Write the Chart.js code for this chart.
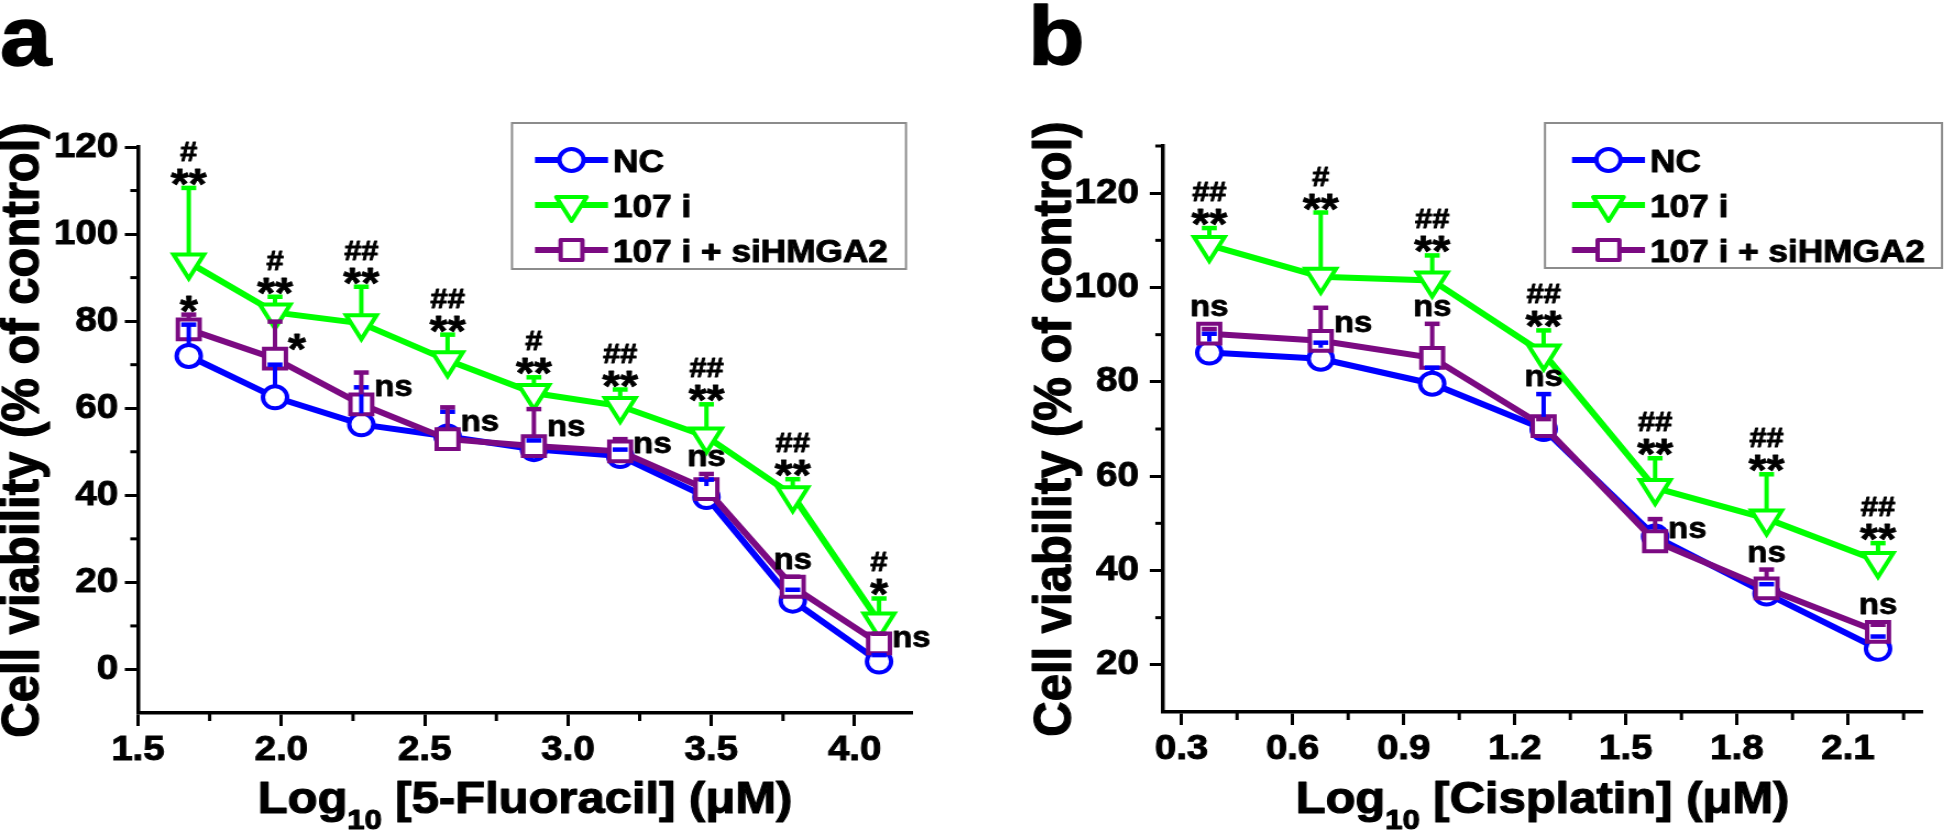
<!DOCTYPE html>
<html>
<head>
<meta charset="utf-8">
<title>Cell viability</title>
<script src="https://cdn.jsdelivr.net/npm/chart.js@4.4.1/dist/chart.umd.min.js"></script>
<style>
  html, body { margin: 0; padding: 0; background: #fff; }
  body { width: 1944px; height: 837px; overflow: hidden; position: relative; }
  .panel { position: absolute; top: 0; transform-origin: 0 0; }
  canvas { display: block; }
</style>
</head>
<body>
<div class="panel" id="panelA"><canvas id="chartA"></canvas></div>
<div class="panel" id="panelB"><canvas id="chartB"></canvas></div>
<script>
const FONT = '"Liberation Sans", Arial, Helvetica, sans-serif';
const S = 1.1;   // the source figure is drawn a bit wide, so canvases get stretched sideways
const H = 837;

// panel a - 5-Fluoracil
const fluLogDose = [1.677, 1.978, 2.279, 2.580, 2.881, 3.182, 3.483, 3.784, 4.085];
const fluNC = [72, 62.5, 56.3, 53.5, 50.6, 49, 39.6, 15.8, 1.8];
const fluNCErr = [7.2, 7.5, 8.5, 5.7, 2, 1.5, 4, 2.5, 1.5];
const fluI = [93.5, 82, 79.5, 71, 63.5, 60.5, 53.5, 40, 11];
const fluIErr = [17.1, 3.6, 8.4, 5.9, 3.6, 3.8, 7.4, 3.7, 5.3];
const fluSi = [78.1, 71.4, 60.9, 52.9, 51.3, 50.1, 41.4, 19, 6];
const fluSiErr = [3.4, 8.5, 7.3, 7.3, 8.5, 2.8, 3.5, 2.3, 2.2];
const fluHash = ['#', '#', '##', '##', '#', '##', '##', '##', '#'];
const fluStar = ['**', '**', '**', '**', '**', '**', '**', '**', '*'];
const fluSiSig = ['*', '*', 'ns', 'ns', 'ns', 'ns', 'ns', 'ns', 'ns'];
const fluSiSide = ['above', 'right', 'right', 'right', 'right', 'right', 'above', 'above', 'right'];
const fluXTicks = [1.5, 2.0, 2.5, 3.0, 3.5, 4.0];
const fluXMinor = [1.75, 2.25, 2.75, 3.25, 3.75];
const fluYTicks = [0, 20, 40, 60, 80, 100, 120];
const fluYMinor = [10, 30, 50, 70, 90, 110];

// panel b - Cisplatin
const cisLogDose = [0.375, 0.676, 0.977, 1.278, 1.579, 1.880, 2.181];
const cisNC = [86.2, 84.9, 79.6, 70, 47.2, 35.1, 23.4];
const cisNCErr = [4, 3.4, 3.4, 7.4, 2, 2, 2.6];
const cisI = [109, 102.3, 101.5, 86, 57.5, 51, 42];
const cisIErr = [3.6, 13.6, 5.3, 4.9, 6.3, 9.4, 3.8];
const cisSi = [90.2, 88.7, 85.1, 70.6, 46.2, 36.2, 27];
const cisSiErr = [1, 7, 7.2, 1.5, 4.7, 4, 1.5];
const cisHash = ['##', '#', '##', '##', '##', '##', '##'];
const cisStar = ['**', '**', '**', '**', '**', '**', '**'];
const cisSiSig = ['ns', 'ns', 'ns', 'ns', 'ns', 'ns', 'ns'];
const cisSiSide = ['above', 'right', 'above', 'above', 'right', 'above', 'above'];
const cisXTicks = [0.3, 0.6, 0.9, 1.2, 1.5, 1.8, 2.1];
const cisXMinor = [0.45, 0.75, 1.05, 1.35, 1.65, 1.95, 2.25];
const cisYTicks = [20, 40, 60, 80, 100, 120];
const cisYMinor = [30, 50, 70, 90, 110, 130];

const seriesNames = ['NC', '107 i', '107 i + siHMGA2'];
const seriesColors = ['#0000ff', '#00ff00', '#7b0a82'];
const yTitleText = 'Cell viability (% of control)';

Chart.defaults.font.family = FONT;
Chart.defaults.font.weight = 'bold';
Chart.defaults.color = '#000';

function series(k, xs, ys, errs) {
  const styles = ['circle', 'triangle', 'rect'];
  const radius = [11, 16, 14];
  const edge = [11, 8, 9.9];
  return {
    label: seriesNames[k],
    data: xs.map((x, i) => ({ x: x, y: ys[i] })),
    errors: errs,
    markerEdge: edge[k],
    borderColor: seriesColors[k],
    backgroundColor: '#fff',
    borderWidth: 6,
    pointStyle: styles[k],
    pointRotation: k === 1 ? 180 : 0,
    pointRadius: radius[k],
    pointBorderWidth: 4,
    pointBorderColor: seriesColors[k],
    pointBackgroundColor: '#fff',
    order: [1, 2, 0][k],
    tension: 0,
    clip: false
  };
}

// bold text with a hairline stroke, the source glyphs are heavy
function heavyText(ctx, str, x, y, w) {
  ctx.lineWidth = w || 1.2;
  ctx.strokeStyle = ctx.fillStyle;
  ctx.lineJoin = 'round';
  ctx.strokeText(str, x, y);
  ctx.fillText(str, x, y);
}

function marker(ctx, ds, x, y) {
  if (Chart.helpers && Chart.helpers.drawPoint) {
    Chart.helpers.drawPoint(ctx, { pointStyle: ds.pointStyle, rotation: ds.pointRotation, radius: ds.pointRadius, borderWidth: ds.pointBorderWidth }, x, y);
    return;
  }
  const r = ds.pointRadius;
  ctx.beginPath();
  if (ds.pointStyle === 'circle') ctx.arc(x, y, r, 0, Math.PI * 2);
  else if (ds.pointStyle === 'rect') ctx.rect(x - r * Math.SQRT1_2, y - r * Math.SQRT1_2, 2 * r * Math.SQRT1_2, 2 * r * Math.SQRT1_2);
  else { ctx.moveTo(x, y + r); ctx.lineTo(x - r * 0.866, y - r / 2); ctx.lineTo(x + r * 0.866, y - r / 2); ctx.closePath(); }
  ctx.fill(); ctx.stroke();
}

function drawPanel(cfg) {
  const wrap = document.getElementById(cfg.wrapId);
  const canvas = document.getElementById(cfg.canvasId);
  const W = Math.ceil(cfg.width / S);
  canvas.width = W;
  canvas.height = H;
  wrap.style.left = cfg.left + 'px';
  wrap.style.transform = 'scaleX(' + S + ')';
  const toX = fx => (fx - cfg.left) / S;

  const yWidth = toX(cfg.area.left);
  const padRight = W - toX(cfg.area.right);

  const errorBars = {
    id: 'errorBars',
    afterDatasetsDraw(chart) {
      const { ctx, scales: { x, y } } = chart;
      const sets = chart.data.datasets.slice().sort((a, b) => b.order - a.order);
      ctx.save();
      sets.forEach(ds => {
        ctx.strokeStyle = ds.borderColor;
        ds.data.forEach((p, i) => {
          const px = x.getPixelForValue(p.x);
          const py = y.getPixelForValue(p.y);
          const top = y.getPixelForValue(p.y + ds.errors[i]);
          ctx.lineWidth = 4;
          if (top < py - ds.markerEdge) {
            ctx.beginPath(); ctx.moveTo(px, py - ds.markerEdge); ctx.lineTo(px, top); ctx.stroke();
          }
          ctx.lineWidth = 4.5;
          ctx.beginPath(); ctx.moveTo(px - 6.8, top); ctx.lineTo(px + 6.8, top); ctx.stroke();
        });
      });
      ctx.restore();
    }
  };

  const minorTicks = {
    id: 'minorTicks',
    afterDraw(chart) {
      const { ctx, scales: { x, y } } = chart;
      ctx.save();
      ctx.strokeStyle = '#000';
      ctx.lineWidth = 3;
      cfg.xMinor.forEach(v => {
        const p = x.getPixelForValue(v);
        ctx.beginPath(); ctx.moveTo(p, x.top); ctx.lineTo(p, x.top + 8); ctx.stroke();
      });
      cfg.yMinor.forEach(v => {
        const p = y.getPixelForValue(v);
        ctx.beginPath(); ctx.moveTo(y.right, p); ctx.lineTo(y.right - 7, p); ctx.stroke();
      });
      ctx.restore();
    }
  };

  const sigLabels = {
    id: 'sigLabels',
    afterDraw(chart) {
      const { ctx, scales: { x, y } } = chart;
      const [nc, inh, si] = chart.data.datasets;
      const starFont = 'bold 42px ' + FONT, hashFont = 'bold 28px ' + FONT, nsFont = 'bold 30px ' + FONT;
      ctx.save();
      ctx.fillStyle = '#000';
      ctx.textBaseline = 'alphabetic';
      inh.data.forEach((p, i) => {
        const px = x.getPixelForValue(p.x);
        const capG = y.getPixelForValue(p.y + inh.errors[i]);
        ctx.textAlign = 'center';
        ctx.font = starFont;
        heavyText(ctx, cfg.star[i], px, capG + 10, 0.8);
        ctx.font = hashFont;
        heavyText(ctx, cfg.hash[i], px, capG - 27, 1);

        const pyS = y.getPixelForValue(si.data[i].y);
        const capS = y.getPixelForValue(si.data[i].y + si.errors[i]);
        const capN = y.getPixelForValue(nc.data[i].y + nc.errors[i]);
        const txt = cfg.siSig[i];
        const isStar = txt.charAt(0) === '*';
        ctx.font = isStar ? starFont : nsFont;
        if (cfg.siSide[i] === 'above') {
          const top = Math.min(capS, capN, pyS - si.markerEdge);
          ctx.textAlign = 'center';
          heavyText(ctx, txt, px, isStar ? top + 10 : top - 8, 0.8);
        } else {
          const mid = (pyS + capS) / 2;
          ctx.textAlign = 'left';
          heavyText(ctx, txt, px + 13 / S, isStar ? mid + 23 : mid + 8, 0.8);
        }
      });
      ctx.restore();
    }
  };

  const boxLegend = {
    id: 'boxLegend',
    afterDraw(chart) {
      const { ctx } = chart;
      const L = cfg.legend;
      ctx.save();
      ctx.strokeStyle = '#8c8c8c';
      ctx.lineWidth = 2;
      ctx.strokeRect(toX(L.left), L.top, toX(L.right) - toX(L.left), L.bottom - L.top);
      chart.data.datasets.forEach((ds, k) => {
        const yy = L.rows[k];
        const x0 = toX(L.lineFrom), x1 = toX(L.lineTo);
        ctx.strokeStyle = ds.borderColor;
        ctx.lineWidth = ds.borderWidth;
        ctx.beginPath(); ctx.moveTo(x0, yy); ctx.lineTo(x1, yy); ctx.stroke();
        ctx.fillStyle = '#fff';
        ctx.strokeStyle = ds.borderColor;
        ctx.lineWidth = ds.pointBorderWidth;
        marker(ctx, ds, (x0 + x1) / 2, yy);
        ctx.fillStyle = '#000';
        ctx.font = 'bold 32px ' + FONT;
        ctx.textAlign = 'left';
        ctx.textBaseline = 'alphabetic';
        heavyText(ctx, ds.label, toX(L.textX), yy + 11.5, 1);
      });
      ctx.restore();
    }
  };

  const titles = {
    id: 'titles',
    afterDraw(chart) {
      const { ctx, chartArea: a } = chart;
      ctx.save();
      ctx.fillStyle = '#000';

      // x title with the subscript 10
      const main = 'bold 44.5px ' + FONT, sub = 'bold 28px ' + FONT;
      const parts = [['Log', main, 0], ['10', sub, 16], [cfg.xTitleRest, main, 0]];
      ctx.textAlign = 'left';
      ctx.textBaseline = 'alphabetic';
      let total = 0;
      const widths = parts.map(p => { ctx.font = p[1]; const w = ctx.measureText(p[0]).width; total += w; return w; });
      let xx = (a.left + a.right) / 2 - total / 2;
      parts.forEach((p, i) => { ctx.font = p[1]; heavyText(ctx, p[0], xx, cfg.xTitleY + p[2], 1.2); xx += widths[i]; });

      // y title, drawn by hand so it is not squeezed to the axis height
      ctx.save();
      ctx.translate(toX(cfg.yTitleX), (a.top + a.bottom) / 2);
      ctx.rotate(-Math.PI / 2);
      ctx.font = 'bold 49px ' + FONT;
      ctx.textAlign = 'center';
      ctx.textBaseline = 'middle';
      heavyText(ctx, yTitleText, 0, 0, 1.2);
      ctx.restore();

      ctx.textAlign = 'left';
      ctx.textBaseline = 'alphabetic';
      ctx.font = 'bold 84px ' + FONT;
      heavyText(ctx, cfg.letter, toX(cfg.letterX), 65, 1.5);
      ctx.restore();
    }
  };

  return new Chart(canvas, {
    type: 'line',
    data: {
      datasets: [
        series(0, cfg.xs, cfg.nc, cfg.ncErr),
        series(1, cfg.xs, cfg.inh, cfg.inhErr),
        series(2, cfg.xs, cfg.si, cfg.siErr)
      ]
    },
    options: {
      responsive: false,
      animation: false,
      devicePixelRatio: 1,
      events: [],
      layout: { padding: { left: 0, right: padRight, top: cfg.area.top, bottom: 0 } },
      plugins: { legend: { display: false }, tooltip: { enabled: false } },
      scales: {
        x: {
          type: 'linear', position: 'bottom', min: cfg.xMin, max: cfg.xMax,
          afterBuildTicks: s => { s.ticks = cfg.xTicks.map(v => ({ value: v })); },
          afterFit: s => { s.height = H - cfg.area.bottom; },
          ticks: { autoSkip: false, maxRotation: 0, padding: 3, color: '#000', textStrokeColor: '#000', textStrokeWidth: 1,
                   font: { size: 35, weight: 'bold' }, callback: v => Number(v).toFixed(1) },
          grid: { drawOnChartArea: false, drawTicks: true, tickLength: 13, tickWidth: 3, tickColor: '#000' },
          border: { display: true, color: '#000', width: 3.5 }
        },
        y: {
          type: 'linear', position: 'left', min: cfg.yMin, max: cfg.yMax,
          afterBuildTicks: s => { s.ticks = cfg.yTicks.map(v => ({ value: v })); },
          afterFit: s => { s.width = yWidth; },
          ticks: { padding: cfg.yTickPad, color: '#000', textStrokeColor: '#000', textStrokeWidth: 1,
                   font: { size: 35, weight: 'bold' }, callback: v => String(v) },
          grid: { drawOnChartArea: false, drawTicks: true, tickLength: 12, tickWidth: 3, tickColor: '#000' },
          border: { display: true, color: '#000', width: 3.5 }
        }
      }
    },
    plugins: [errorBars, minorTicks, sigLabels, boxLegend, titles]
  });
}

drawPanel({
  wrapId: 'panelA', canvasId: 'chartA', left: 0, width: 975,
  area: { left: 138, right: 912, top: 147, bottom: 713 },
  xMin: 1.5, xMax: 4.2, yMin: -10, yMax: 120, yTickPad: 6,
  xTicks: fluXTicks, xMinor: fluXMinor, yTicks: fluYTicks, yMinor: fluYMinor,
  xs: fluLogDose, nc: fluNC, ncErr: fluNCErr, inh: fluI, inhErr: fluIErr, si: fluSi, siErr: fluSiErr,
  hash: fluHash, star: fluStar, siSig: fluSiSig, siSide: fluSiSide,
  xTitleRest: ' [5-Fluoracil] (\u03bcM)', xTitleY: 813,
  yTitleX: 24, letter: 'a', letterX: 0,
  legend: { left: 512, right: 906, top: 123, bottom: 269, rows: [160, 205, 250], lineFrom: 535, lineTo: 608, textX: 613 }
});

drawPanel({
  wrapId: 'panelB', canvasId: 'chartB', left: 975, width: 969,
  area: { left: 1163, right: 1935, top: 146, bottom: 712 },
  xMin: 0.25, xMax: 2.3, yMin: 10, yMax: 130, yTickPad: 10,
  xTicks: cisXTicks, xMinor: cisXMinor, yTicks: cisYTicks, yMinor: cisYMinor,
  xs: cisLogDose, nc: cisNC, ncErr: cisNCErr, inh: cisI, inhErr: cisIErr, si: cisSi, siErr: cisSiErr,
  hash: cisHash, star: cisStar, siSig: cisSiSig, siSide: cisSiSide,
  xTitleRest: ' [Cisplatin] (\u03bcM)', xTitleY: 813,
  yTitleX: 1056, letter: 'b', letterX: 1028,
  legend: { left: 1545, right: 1942, top: 123, bottom: 268, rows: [160, 205, 250], lineFrom: 1572, lineTo: 1645, textX: 1650 }
});
</script>
</body>
</html>
